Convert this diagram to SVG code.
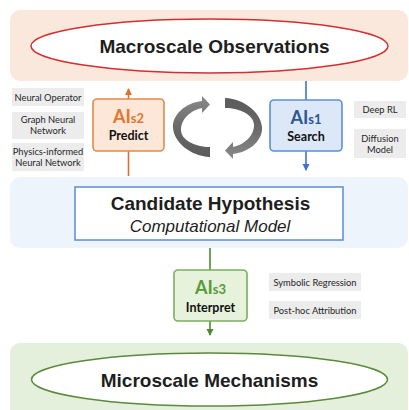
<svg xmlns="http://www.w3.org/2000/svg" width="409" height="410" viewBox="0 0 409 410">
<defs>
<style>
.panel{stroke:none}
.title{font-family:"Liberation Sans",Arial,sans-serif;font-weight:bold;font-size:19px;fill:#1e1e1e;text-anchor:middle}
.ital{font-family:"Liberation Sans",Arial,sans-serif;font-style:italic;font-size:17px;fill:#1e1e1e;text-anchor:middle}
.ai{font-family:Lato,"Open Sans",sans-serif;font-weight:bold;font-size:18px;text-anchor:middle}
.sub{font-size:13px}
.verb{font-family:Lato,"Open Sans",sans-serif;font-weight:bold;font-size:12.5px;fill:#111;text-anchor:middle}
.lbox{fill:#ececec;stroke:none}
.ltxt{font-family:Lato,"Open Sans",sans-serif;font-size:9.3px;fill:#262626;text-anchor:middle}
</style>
<marker id="mo" markerWidth="8" markerHeight="8" refX="6" refY="4" orient="auto" markerUnits="userSpaceOnUse"><path d="M0,0.5 L7,4 L0,7.5 Z" fill="#d9742e"/></marker>
<marker id="mb" markerWidth="8" markerHeight="8" refX="6" refY="4" orient="auto" markerUnits="userSpaceOnUse"><path d="M0,0.5 L7,4 L0,7.5 Z" fill="#3f72cf"/></marker>
<marker id="mg" markerWidth="8" markerHeight="8" refX="6" refY="4" orient="auto" markerUnits="userSpaceOnUse"><path d="M0,0.5 L7,4 L0,7.5 Z" fill="#4f8a33"/></marker>
<linearGradient id="gr" x1="0" y1="0" x2="0" y2="1">
<stop offset="0" stop-color="#8a8a8a"/>
<stop offset="0.5" stop-color="#6a6a6a"/>
<stop offset="1" stop-color="#5a5a5a"/>
</linearGradient>
</defs>
<rect width="409" height="410" fill="#ffffff"/>

<g id="panel-macro">
<rect class="panel" x="10" y="10" width="398" height="71" rx="10" fill="#fbe8dd"/>
</g>
<g id="panel-candidate">
<rect class="panel" x="10" y="177" width="398" height="71" rx="10" fill="#eef4fb"/>
</g>
<g id="panel-micro">
<rect class="panel" x="10" y="343" width="398" height="80" rx="10" fill="#e5f0dc"/>
</g>

<g id="connectors" fill="none" stroke-width="1.6">
<line x1="128.5" y1="176" x2="128.5" y2="89" stroke="#d9742e" marker-end="url(#mo)"/>
<line x1="306" y1="81" x2="306" y2="170" stroke="#3f72cf" marker-end="url(#mb)"/>
<line x1="210" y1="248" x2="210" y2="335" stroke="#4f8a33" marker-end="url(#mg)"/>
</g>

<g id="macro">
<ellipse cx="209.5" cy="46" rx="178.5" ry="27" fill="#ffffff" stroke="#d42f2f" stroke-width="1.5"/>
<text class="title" x="214.5" y="53">Macroscale Observations</text>
</g>

<g id="candidate">
<rect x="75" y="187" width="268" height="53" fill="#ffffff" stroke="#5b8bd6" stroke-width="1.5"/>
<text class="title" x="210.5" y="210">Candidate Hypothesis</text>
<text class="ital" x="210" y="232">Computational Model</text>
</g>

<g id="micro">
<ellipse cx="209.5" cy="379.5" rx="178" ry="26.5" fill="#ffffff" stroke="#5a8a3a" stroke-width="1.5"/>
<text class="title" x="209.5" y="387">Microscale Mechanisms</text>
</g>

<g id="ais2">
<rect x="93" y="99" width="71" height="52" rx="4" fill="#fde7d9" stroke="#e08a4a" stroke-width="1.6"/>
<text class="ai" x="128.5" y="123" fill="#e0772f">AI<tspan class="sub">s2</tspan></text>
<text class="verb" x="128.5" y="140">Predict</text>
</g>

<g id="ais1">
<rect x="270" y="100" width="72" height="51" rx="4" fill="#dce8f8" stroke="#5b8fd6" stroke-width="1.6"/>
<text class="ai" x="306" y="124" fill="#2f5597">AI<tspan class="sub">s1</tspan></text>
<text class="verb" x="306" y="141">Search</text>
</g>

<g id="ais3">
<rect x="174" y="270" width="73" height="51" rx="4" fill="#e6f2dc" stroke="#7ab05a" stroke-width="1.6"/>
<text class="ai" x="210.5" y="294" fill="#5a9a3a">AI<tspan class="sub">s3</tspan></text>
<text class="verb" x="210.5" y="312">Interpret</text>
</g>

<g id="cycle">
<path d="M202,101 C185,103 172,115 173,128 C174,142 190,156 210,157 L210,147 C195,147 181,140 181,130 C181,118 192,110 202,108 L202,113 L210,104.5 L202,96 Z" fill="url(#gr)"/>
<path d="M202,101 C185,103 172,115 173,128 C174,142 190,156 210,157 L210,147 C195,147 181,140 181,130 C181,118 192,110 202,108 L202,113 L210,104.5 L202,96 Z" fill="url(#gr)" transform="rotate(180 217.5 127.5)"/>
</g>

<g id="label-neural-operator">
<rect class="lbox" x="12" y="88" width="72" height="18"/>
<text class="ltxt" x="48" y="100.5">Neural Operator</text>
</g>
<g id="label-gnn">
<rect class="lbox" x="12" y="112" width="72" height="27"/>
<text class="ltxt" x="48" y="122.5">Graph Neural</text>
<text class="ltxt" x="48" y="134">Network</text>
</g>
<g id="label-pinn">
<rect class="lbox" x="12" y="143" width="72" height="28"/>
<text class="ltxt" x="48" y="154.5">Physics-informed</text>
<text class="ltxt" x="48" y="166">Neural Network</text>
</g>
<g id="label-deeprl">
<rect class="lbox" x="354" y="101" width="52" height="17"/>
<text class="ltxt" x="380" y="113">Deep RL</text>
</g>
<g id="label-diffusion">
<rect class="lbox" x="354" y="129" width="52" height="29"/>
<text class="ltxt" x="380" y="141.5">Diffusion</text>
<text class="ltxt" x="380" y="153">Model</text>
</g>
<g id="label-symreg">
<rect class="lbox" x="269" y="273" width="92" height="18"/>
<text class="ltxt" x="315" y="285.5">Symbolic Regression</text>
</g>
<g id="label-posthoc">
<rect class="lbox" x="269" y="301" width="92" height="18"/>
<text class="ltxt" x="315" y="313.5">Post-hoc Attribution</text>
</g>
</svg>
